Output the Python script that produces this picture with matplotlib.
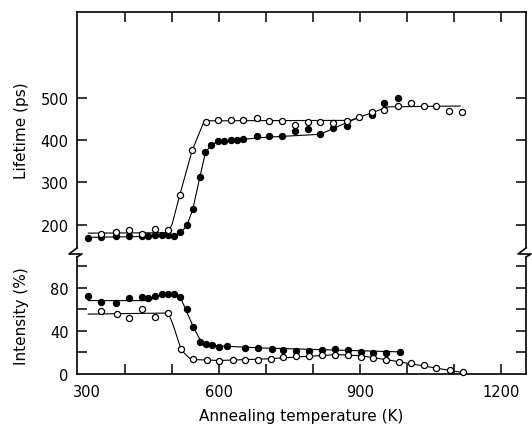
import matplotlib
matplotlib.use("Agg")
import matplotlib.pyplot as plt
import matplotlib.transforms as mtransforms
from matplotlib.lines import Line2D

# ---------------- data ----------------
# Lifetime (ps), filled circles
life_closed_T = [322, 349, 380, 408, 436, 450, 464, 478, 492, 505, 518, 531, 544, 559, 571,
                 583, 597, 611, 626, 639, 652, 680, 707, 734, 761, 789, 815, 843, 872, 925, 952, 980]
life_closed_L = [168, 171, 174, 174, 174, 174, 175, 175, 175, 174, 183, 200, 238, 312, 372,
                 389, 397, 398, 400, 400, 402, 409, 411, 411, 421, 427, 415, 429, 434, 459, 488, 500]
# Lifetime (ps), open circles
life_open_T = [349, 382, 409, 436, 464, 492, 517, 543, 572, 598, 625, 652, 680, 707, 734, 761,
               789, 815, 843, 872, 898, 925, 952, 980, 1008, 1035, 1062, 1089, 1116]
life_open_L = [178, 182, 187, 178, 190, 187, 271, 376, 444, 448, 449, 448, 453, 445, 446, 437,
               442, 444, 441, 446, 456, 467, 471, 481, 488, 481, 482, 470, 468]
# fitted guide lines (lifetime)
fit_open_T = [322, 490, 500, 517, 543, 568, 580, 880, 960, 1113]
fit_open_L = [180, 181, 200, 272, 376, 444, 446, 447, 479, 481]
fit_closed_T = [322, 505, 518, 531, 544, 559, 571, 583, 600, 700, 815, 893]
fit_closed_L = [170, 173, 180, 197, 235, 311, 370, 389, 397, 407, 414, 452]

# Intensity (%), filled circles
int_closed_T = [322, 349, 382, 409, 436, 450, 464, 478, 492, 505, 518, 531, 544, 560, 572, 586,
                601, 616, 656, 682, 712, 737, 764, 792, 820, 847, 875, 902, 928, 955, 985]
int_closed_I = [72.4, 67.1, 66.1, 70.6, 71.0, 70.1, 72.5, 74.4, 74.0, 74.2, 71.1, 60.2, 43.2,
                29.5, 27.4, 26.6, 25.0, 25.9, 24.5, 24.2, 23.1, 22.1, 21.4, 21.2, 22.3, 23.5,
                22.5, 20.8, 19.8, 19.7, 20.5]
# Intensity (%), open circles
int_open_T = [349, 383, 409, 436, 464, 492, 519, 545, 574, 601, 629, 656, 682, 710, 737, 764,
              792, 820, 847, 875, 902, 928, 955, 983, 1009, 1036, 1062, 1091, 1119]
int_open_I = [58.4, 55.9, 52.0, 60.3, 52.4, 56.9, 23.2, 13.6, 12.9, 12.0, 12.6, 13.1, 12.9,
              13.9, 15.9, 16.8, 16.6, 17.4, 18.0, 17.2, 16.2, 15.2, 13.0, 11.2, 10.5, 8.0,
              5.6, 3.7, 2.1]
fit_iclosed_T = [322, 450, 470, 482, 505, 520, 545, 562, 585, 600, 700, 985]
fit_iclosed_I = [68, 68, 72, 74, 74, 69, 44, 30, 27, 26, 24, 20.5]
fit_iopen_T = [322, 492, 502, 520, 540, 600, 700, 850, 900, 960, 1116]
fit_iopen_I = [55.5, 56.5, 46, 22, 13.5, 12.5, 14, 18, 17, 13, 1.5]

x_ticks = [300, 400, 500, 600, 700, 800, 900, 1000, 1100, 1200]
x_labels = ["300", "", "", "600", "", "", "900", "", "", "1200"]
life_ticks = [200, 300, 400, 500]
int_ticks = [20, 40, 60, 80, 100]
int_labels = ["", "40", "", "80", ""]

# ---------------- figure ----------------
W, H = 532, 427
fig = plt.figure(figsize=(W / 100, H / 100), dpi=100)
plt.rcParams['font.family'] = ['DejaVu Sans']

def fx(px):
    return px / W

def fy(py):
    return 1 - py / H

xl, xr = 77, 526
ax1 = fig.add_axes([fx(xl), fy(249), fx(xr) - fx(xl), fy(13) - fy(249)])
ax2 = fig.add_axes([fx(xl), fy(375), fx(xr) - fx(xl), fy(258) - fy(375)])

lw_spine = 1.2
ms = 4.4
for ax in (ax1, ax2):
    ax.set_xlim(298, 1253)
    for s in ax.spines.values():
        s.set_linewidth(lw_spine)
    ax.tick_params(direction='in', length=7, width=1.1, labelsize=10.5, pad=6)

# upper panel
ax1.plot(fit_open_T, fit_open_L, color='black', lw=0.8, zorder=2)
ax1.plot(fit_closed_T, fit_closed_L, color='black', lw=0.8, zorder=2)
ax1.plot(life_closed_T, life_closed_L, 'o', ms=ms, mfc='black', mec='black', mew=0.9, zorder=3)
ax1.plot(life_open_T, life_open_L, 'o', ms=ms, mfc='white', mec='black', mew=0.9, zorder=4)
ax1.set_ylim(144.8, 703.6)
ax1.set_yticks(life_ticks)
ax1.spines['bottom'].set_visible(False)
ax1.tick_params(axis='x', which='both', bottom=False, labelbottom=False, top=True)
ax1.set_xticks(x_ticks[1:])
ax1.tick_params(axis='y', left=True, right=True)
ax1.set_ylabel('Lifetime (ps)', fontsize=11)

# lower panel
ax2.plot(fit_iclosed_T, fit_iclosed_I, color='black', lw=0.8, zorder=2)
ax2.plot(fit_iopen_T, fit_iopen_I, color='black', lw=0.8, zorder=2)
ax2.plot(int_closed_T, int_closed_I, 'o', ms=ms, mfc='black', mec='black', mew=0.9, zorder=3)
ax2.plot(int_open_T, int_open_I, 'o', ms=ms, mfc='white', mec='black', mew=0.9, zorder=4,
         clip_on=False)
ax2.set_ylim(0, 108.4)
ax2.spines['top'].set_visible(False)
ax2.set_yticks([0] + int_ticks)
ax2.set_yticklabels(["0"] + int_labels)
ax2.tick_params(axis='y', left=True, right=True)
ax2.set_xticks(x_ticks)
ax2.set_xticklabels(x_labels)
ax2.tick_params(axis='x', top=False, pad=7)
ax2.set_ylabel('Intensity (%)', fontsize=11)
ax2.set_xlabel('Annealing temperature (K)', fontsize=11, labelpad=7)

# shift "300" label slightly right, as in the reference
lbl = ax2.get_xticklabels()[0]
lbl.set_transform(lbl.get_transform() + mtransforms.ScaledTranslation(9 / 100, 0, fig.dpi_scale_trans))

# hide the tick at 0 on the left (spine) and 300 on the bottom
ax2.yaxis.get_major_ticks()[0].tick1line.set_visible(False)
ax2.yaxis.get_major_ticks()[0].tick2line.set_visible(False)
ax2.xaxis.get_major_ticks()[0].tick1line.set_visible(False)

# align y labels
ax1.yaxis.set_label_coords(-0.108, 0.5)
ax2.yaxis.set_label_coords(-0.108, 0.5)

# axis break marks
def brk(x0):
    xs = [x0, x0 - 8, x0 + 5, x0]
    ys = [249, 255, 255, 258]
    fig.add_artist(Line2D([fx(v) for v in xs], [fy(v) for v in ys],
                          transform=fig.transFigure, color='black', lw=lw_spine))

brk(xl)
brk(xr)

fig.savefig('out.png', dpi=100)
